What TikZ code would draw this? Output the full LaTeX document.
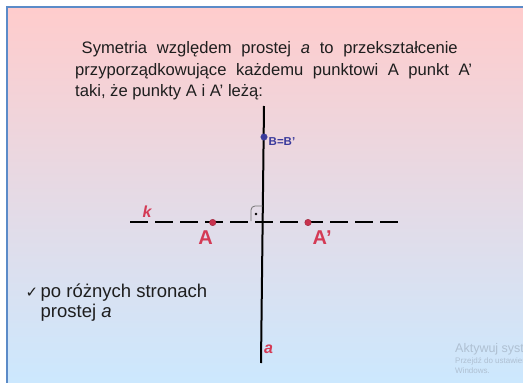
\documentclass[tikz,border=0pt]{standalone}
\usepackage{fontspec}
\setmainfont{Liberation Sans}
\newfontfamily\symfont{DejaVu Sans}
\usepackage{tikz}
\usetikzlibrary{
  positioning,
  calc
}
\definecolor{symTop}{HTML}{FFCCCC}
\definecolor{symBot}{HTML}{CCE8FE}
\definecolor{symFrame}{HTML}{5B8BC8}
\definecolor{symRed}{HTML}{C8324E}
\definecolor{symLbl}{HTML}{D43A55}
\definecolor{symNavy}{HTML}{3A3A9C}
\definecolor{symInk}{HTML}{1E1E1E}
\definecolor{symWater}{HTML}{AFC0D2}
\tikzset{
  txtline/.style={anchor=base west, inner sep=0pt, text=symInk,
    font=\fontsize{16.6}{19}\selectfont},
  listline/.style={txtline, font=\fontsize{18.5}{21}\selectfont},
  ptdot/.style={circle, fill=symRed, draw=symRed!80!black, inner sep=0pt,
    minimum size=6.5pt},
  bdot/.style={ptdot, fill=symNavy, draw=symNavy},
  ptlbl/.style={anchor=base, inner sep=0pt, text=symLbl,
    font=\fontsize{20}{22}\selectfont\bfseries},
  linelbl/.style={anchor=base, inner sep=0pt, text=symLbl,
    font=\fontsize{16}{18}\selectfont\bfseries\itshape},
  axisline/.style={line width=2pt, black},
  dashline/.style={line width=2.6pt, black, dash pattern=on 18pt off 7pt},
  rightmark/.style={line width=.8pt, black!55, rounded corners=4pt},
  watermark/.style={anchor=base west, inner sep=0pt, text=symWater}
}
\begin{document}
\begin{tikzpicture}[x=1pt, y=-1pt]
  \useasboundingbox (0,0) rectangle (523,383);
  % slide background
  \fill[white] (0,0) rectangle (523,383);
  \shade[top color=symTop, bottom color=symBot] (7,7) rectangle (523,383);
  \draw[symFrame, line width=2pt] (7,383) -- (7,7) -- (523,7);

  % definition text
  \node[txtline] (def1) at (81.5,53) {\makebox[376pt][s]{Symetria względem prostej \textit{a} to przekształcenie}};
  \node[txtline] (def2) at (75,75) {\makebox[397pt][s]{przyporządkowujące każdemu punktowi A punkt A’}};
  \node[txtline] (def3) at (75,96.5) {taki, że punkty A i A’ leżą:};

  % line a and line k
  \coordinate (atop) at (264,106);
  \coordinate (abot) at (261,363);
  \coordinate (kleft) at (130,222);
  \coordinate (kright) at (398,222);
  \draw[dashline] (kleft) -- (kright);
  \draw[axisline] (atop) -- (abot);

  % right angle
  \coordinate (rmA) at (251,221);
  \coordinate (rmB) at (251,206);
  \coordinate (rmC) at (262.5,206);
  \draw[rightmark] (rmA) -- (rmB) -- (rmC);
  \fill[black] (256,214) circle (1.3);

  % points
  \node[bdot] (B) at (264,137) {};
  \node[anchor=base west, inner sep=0pt, text=symNavy, font=\fontsize{11.5}{13}\selectfont\bfseries] (Blbl) at (268.5,145) {B=B’};
  \node[ptdot] (A) at (212.7,222.5) {};
  \node[ptdot] (A1) at (308,222.5) {};
  \node[ptlbl] (Albl) at (205.7,244) {A};
  \node[ptlbl, anchor=base west] (A1lbl) at (312.5,244) {A’};
  \node[linelbl] (klbl) at (147,217) {k};
  \node[linelbl, anchor=base west] (albl) at (264,353) {a};

  % conclusion
  \node[anchor=base west, inner sep=0pt, text=symInk, font=\symfont\fontsize{15}{17}\selectfont] (tick) at (25.5,297.5) {✓};
  \node[listline] (res1) at (40.5,297) {po różnych stronach};
  \node[listline] (res2) at (40.5,317) {prostej \textit{a}};

  % watermark
  \begin{scope}
    \clip (7,7) rectangle (523,383);
    \node[watermark, font=\fontsize{12.5}{14}\selectfont] (wm1) at (455,352) {Aktywuj system};
    \node[watermark, font=\fontsize{8}{9}\selectfont] (wm2) at (455,363.5) {Przejdź do ustawień};
    \node[watermark, font=\fontsize{8}{9}\selectfont] (wm3) at (455,373.5) {Windows.};
  \end{scope}
\end{tikzpicture}
\end{document}
